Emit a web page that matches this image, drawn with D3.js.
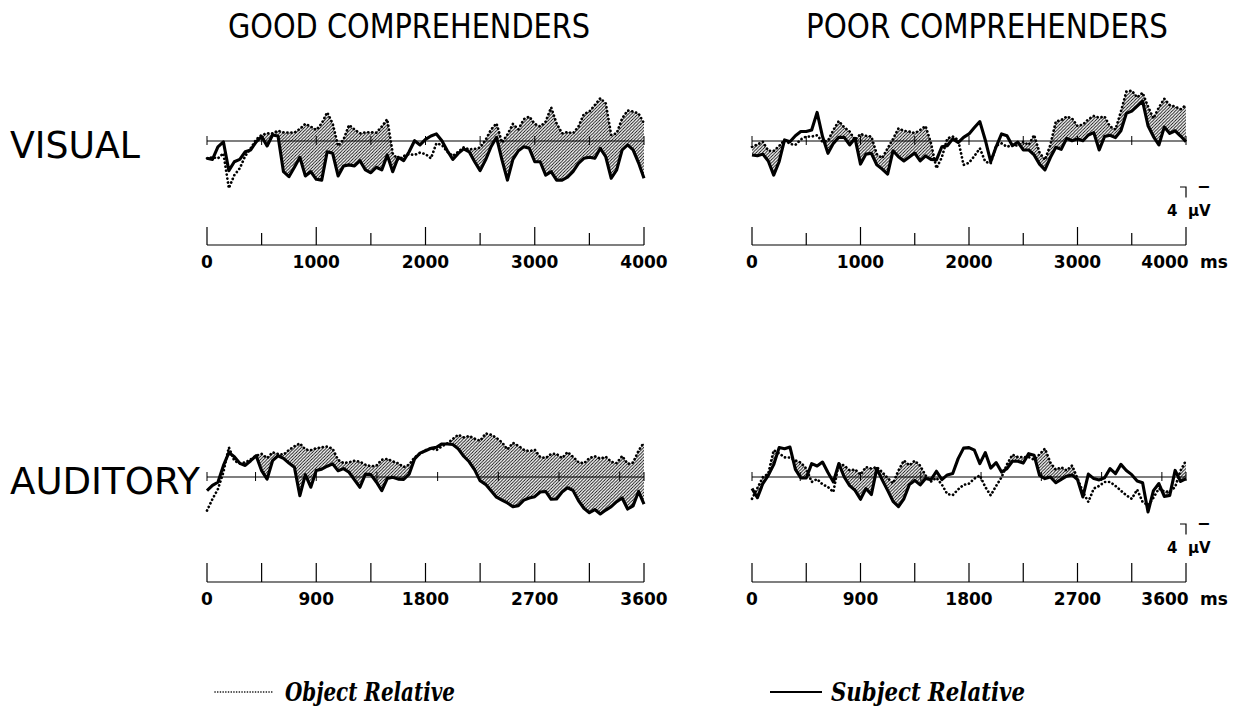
<!DOCTYPE html>
<html>
<head>
<meta charset="utf-8">
<script src="https://cdn.jsdelivr.net/npm/d3@7"></script>
<style>
  html, body { margin: 0; padding: 0; background: #fff; }
  svg { display: block; }
</style>
</head>
<body>
<svg id="chart" width="1237" height="719"></svg>
<script>
// ERP difference waveforms: Object vs Subject relative clauses, 4 panels.
// Values in microvolts; negative is plotted upward.

const visualStepMs = 50;      // sample spacing, visual panels (0–4000 ms)
const auditoryStepMs = 45;    // sample spacing, auditory panels (0–3600 ms)

const visualTickLabels = [0, 1000, 2000, 3000, 4000];
const auditoryTickLabels = [0, 900, 1800, 2700, 3600];
const visualMinorTicks = [500, 1500, 2500, 3500];
const auditoryMinorTicks = [450, 1350, 2250, 3150];
const visualOnsetMarks = [0, 500, 1000, 1500, 2000, 2500, 3000, 3500, 4000];
const auditoryOnsetMarks = [0, 400, 900, 1400, 1900, 2400, 2900, 3400, 3600];

const columnTitles = ["GOOD  COMPREHENDERS", "POOR  COMPREHENDERS"];
const rowTitles = ["VISUAL", "AUDITORY"];
const legendLabels = ["Object  Relative", "Subject  Relative"];

const goodVisualSubject = [6.6,7.0,2.2,0.3,11.3,7.9,7.0,4.1,3.4,0.3,-1.7,1.9,-2.3,-1.9,11.7,13.6,10.0,6.2,13.3,11.7,14.6,14.9,4.1,4.7,13.3,9.5,9.1,9.5,7.5,11.0,12.1,10.0,11.0,5.3,11.7,6.2,7.5,4.1,-0.1,1.5,-0.6,-1.9,-2.7,-0.1,3.7,7.0,4.7,3.0,4.1,7.9,11.3,7.2,2.2,-1.4,7.2,14.9,7.0,3.7,2.2,2.8,7.9,7.9,13.0,11.7,14.9,14.9,13.8,11.7,8.5,6.6,6.2,6.6,2.8,6.0,14.2,11.0,3.4,1.5,3.4,8.3,14.2];
const goodVisualObject = [6.6,6.2,6.6,4.7,18.0,13.0,10.4,5.7,2.8,-0.6,-2.3,-2.9,-2.9,-3.9,-3.3,-3.2,-3.2,-4.6,-6.5,-5.5,-4.2,-6.7,-10.9,-6.7,1.9,-0.6,-6.1,-4.4,-2.9,-3.3,-3.3,-3.2,-5.5,-8.3,4.7,7.2,5.7,5.0,5.3,4.4,5.0,6.6,0.9,1.5,4.1,5.7,4.1,2.4,3.2,3.0,2.5,-0.4,-4.4,-6.7,0.6,-2.5,-6.5,-4.4,-8.3,-9.3,-6.5,-5.5,-7.4,-12.8,-6.7,-2.9,-3.4,-2.9,-5.5,-10.3,-11.2,-13.7,-16.3,-14.3,-2.3,-2.9,-8.6,-11.6,-11.2,-10.5,-6.7];

const poorVisualSubject = [5.3,5.6,5.0,7.6,13.0,7.9,-0.4,0.3,-2.0,-3.6,-3.6,-4.2,-10.9,-1.7,4.7,0.9,-1.4,-1.4,1.5,-1.0,8.8,5.0,4.7,9.1,10.7,12.6,3.7,6.0,7.6,6.1,4.6,7.6,5.7,7.0,7.2,2.2,1.8,-0.8,0.6,-1.4,-2.7,-5.1,-7.4,-0.4,7.9,2.2,-2.7,-2.0,1.8,0.4,3.4,3.4,5.3,8.8,11.0,6.3,2.4,3.2,-1.0,-0.1,-0.8,-0.1,-2.3,-3.2,3.4,-1.7,-2.2,-1.3,-3.9,-10.5,-11.4,-13.3,-15.2,-5.8,-1.7,1.5,-5.3,-2.9,-3.9,-1.9,0.3];
const poorVisualObject = [2.2,1.3,0.3,3.7,3.8,1.9,-0.4,1.1,1.5,-0.6,-1.7,-1.7,-2.2,0.3,-0.1,-4.2,-7.6,-5.2,-3.6,-0.4,-2.7,-2.0,-1.7,5.0,6.5,2.8,-0.8,-4.8,-3.9,-3.6,-3.0,-4.2,-5.7,0.9,10.4,6.2,-1.0,-1.7,-0.4,9.1,8.3,5.7,2.8,7.9,8.5,1.8,0.9,2.2,1.5,1.8,0.3,1.5,-2.3,4.4,7.2,1.5,-7.4,-8.0,-9.3,-8.6,-5.7,-6.3,-8.3,-9.5,-8.9,-9.3,-5.5,-4.4,-11.2,-18.8,-19.2,-16.6,-18.4,-13.1,-8.6,-12.8,-16.1,-13.7,-13.1,-12.1,-13.7];

const goodAuditorySubject = [5.2,3.2,2.0,-4.3,-9.3,-7.7,-5.2,-4.4,-6.2,-8.1,-2.4,0.8,-6.2,-8.1,-7.1,-5.3,-3.7,7.1,-0.9,3.9,-2.5,-3.0,-4.1,-5.0,-2.4,-3.2,-1.8,1.1,3.9,-1.1,-0.9,1.9,5.2,0.6,0.1,0.8,0.9,-1.1,-6.9,-9.1,-10.0,-10.9,-11.3,-12.6,-12.6,-12.4,-10.7,-7.9,-5.8,-2.7,1.4,2.8,5.2,7.7,8.8,9.9,11.3,10.9,8.8,8.0,7.5,5.7,5.5,8.5,8.4,5.7,4.1,5.1,9.0,11.9,13.6,12.4,14.1,12.6,11.3,9.4,8.0,12.2,11.0,5.5,10.3];
const goodAuditoryObject = [12.8,8.4,4.6,-1.8,-11.3,-6.2,-5.2,-5.6,-6.7,-8.1,-8.8,-7.2,-9.4,-8.8,-8.5,-10.3,-11.7,-12.8,-10.5,-10.2,-11.0,-11.3,-11.6,-10.8,-6.5,-5.3,-5.6,-6.2,-5.8,-4.7,-4.1,-4.3,-6.6,-6.9,-6.0,-5.2,-3.8,-4.7,-7.5,-8.8,-10.2,-11.0,-10.2,-11.7,-12.8,-14.5,-16.1,-15.1,-15.6,-14.6,-13.8,-16.6,-16.1,-14.9,-13.2,-10.5,-13.0,-11.9,-10.4,-9.8,-10.4,-7.6,-7.2,-8.8,-8.8,-7.2,-9.5,-7.7,-5.6,-5.2,-7.2,-7.9,-7.0,-7.7,-5.8,-5.3,-8.0,-5.0,-5.5,-10.0,-13.2];

const poorAuditorySubject = [4.4,7.9,2.5,-0.6,-4.7,-11.2,-10.8,-11.4,-2.9,0.4,0.4,-5.1,-4.2,-5.7,-1.7,1.9,-5.1,0.0,3.3,5.1,8.5,4.4,6.7,-3.2,1.1,5.1,9.3,11.3,8.3,2.9,1.3,3.0,0.6,1.0,-2.2,1.0,-0.8,-1.3,-7.0,-11.0,-11.2,-10.2,-5.1,-9.3,-3.4,-5.5,-1.9,-3.2,-6.0,-6.0,-5.3,-8.9,-8.3,-0.6,0.6,0.0,2.2,0.9,-0.3,-0.8,1.0,7.6,-1.1,0.6,1.1,0.3,-3.2,-1.3,-4.8,-2.5,-0.9,1.5,2.2,13.3,5.2,2.5,7.4,7.0,-2.5,1.7,0.6];
const poorAuditoryObject = [8.3,4.2,0.1,-1.3,-10.2,-9.0,-7.5,-7.4,-6.3,-5.5,-3.2,1.9,0.8,2.8,3.8,5.7,-5.1,-4.4,-2.5,-2.9,-0.9,-3.8,-3.2,-3.8,-1.9,0.4,2.4,-2.5,-6.3,-4.4,-6.2,-4.3,-0.6,1.7,0.3,2.9,6.5,6.9,4.7,3.0,2.5,0.6,-0.6,3.8,7.0,3.4,0.1,-4.8,-8.5,-7.6,-7.6,-7.6,-6.6,-8.6,-10.8,-5.5,-2.8,-3.7,-2.5,-4.4,0.6,5.7,9.5,4.4,3.4,1.9,1.9,3.4,5.2,7.0,8.3,4.8,9.5,10.8,7.9,4.4,5.5,5.7,3.8,-2.5,-6.3];

const scaleBarMicrovolts = 4;

// ---------------------------------------------------------------------------
const svg = d3.select("#chart");
const FONT_SANS = "'DejaVu Sans', 'Liberation Sans', sans-serif";
const FONT_LEGEND = "'DejaVu Serif', 'Liberation Serif', serif";

const defs = svg.append("defs");
defs.append("pattern")
  .attr("id", "hatch")
  .attr("patternUnits", "userSpaceOnUse")
  .attr("width", 3.2).attr("height", 3.2)
  .append("path")
  .attr("d", "M-0.8,0.8 l1.6,-1.6 M0,3.2 l3.2,-3.2 M2.4,4 l1.6,-1.6")
  .attr("stroke", "#000").attr("stroke-width", 0.85);

const columns = [
  { x0: 207, x1: 644, title: columnTitles[0], titleX: 409, showUnits: false },
  { x0: 752, x1: 1186, title: columnTitles[1], titleX: 987, showUnits: true }
];
const rows = [
  { baseY: 141, axisY: 245, label: rowTitles[0], step: visualStepMs, end: 4000,
    labels: visualTickLabels, minor: visualMinorTicks, onsets: visualOnsetMarks, majorLen: 18, minorLen: 12 },
  { baseY: 477, axisY: 582, label: rowTitles[1], step: auditoryStepMs, end: 3600,
    labels: auditoryTickLabels, minor: auditoryMinorTicks, onsets: auditoryOnsetMarks, majorLen: 19, minorLen: 19 }
];

const panelData = [
  [ { obj: goodVisualObject, subj: goodVisualSubject }, { obj: poorVisualObject, subj: poorVisualSubject } ],
  [ { obj: goodAuditoryObject, subj: goodAuditorySubject }, { obj: poorAuditoryObject, subj: poorAuditorySubject } ]
];

const PX_PER_UV = 2.625;

// column titles
columns.forEach(c => {
  svg.append("text")
    .attr("x", c.titleX).attr("y", 38)
    .attr("text-anchor", "middle")
    .attr("font-family", FONT_SANS)
    .attr("font-size", 34)
    .attr("textLength", 362).attr("lengthAdjust", "spacingAndGlyphs")
    .text(c.title);
});

// row titles
rows.forEach((r, ri) => {
  svg.append("text")
    .attr("x", 10).attr("y", r.baseY + 17)
    .attr("font-family", FONT_SANS)
    .attr("font-size", 38)
    .attr("textLength", ri === 0 ? 130 : 190).attr("lengthAdjust", "spacingAndGlyphs")
    .text(r.label);
});

let clipId = 0;
rows.forEach((r, ri) => {
  columns.forEach((c, ci) => {
    const d = panelData[ri][ci];
    const x = d3.scaleLinear().domain([0, r.end]).range([c.x0, c.x1]);
    const y = d3.scaleLinear().domain([-20, 20]).range([r.baseY - 20 * PX_PER_UV, r.baseY + 20 * PX_PER_UV]);
    const t = i => i * r.step;
    const g = svg.append("g");

    // hatched region where Object is more negative (plotted higher) than Subject
    const cid = "clip" + (clipId++);
    defs.append("clipPath").attr("id", cid)
      .append("path")
      .attr("d", d3.area().x((v, i) => x(t(i))).y0(r.baseY - 80).y1(v => y(v))(d.subj));
    g.append("path")
      .attr("clip-path", `url(#${cid})`)
      .attr("fill", "url(#hatch)")
      .attr("d", d3.area().x((v, i) => x(t(i))).y0(r.baseY + 80).y1(v => y(v))(d.obj));

    // zero line with onset marks
    g.append("line")
      .attr("x1", x(0)).attr("x2", x(r.end))
      .attr("y1", y(0)).attr("y2", y(0))
      .attr("stroke", "#000").attr("stroke-width", 1.1);
    g.selectAll(".onset").data(r.onsets).enter().append("line")
      .attr("x1", v => x(v)).attr("x2", v => x(v))
      .attr("y1", y(0) - 5).attr("y2", y(0) + 4)
      .attr("stroke", "#000").attr("stroke-width", 1);

    const line = d3.line().x((v, i) => x(t(i))).y(v => y(v));

    g.append("path").attr("d", line(d.obj))
      .attr("fill", "none").attr("stroke", "#000")
      .attr("stroke-width", 2.7).attr("stroke-linecap", "round")
      .attr("stroke-dasharray", "0.1 3.9");
    g.append("path").attr("d", line(d.subj))
      .attr("fill", "none").attr("stroke", "#000")
      .attr("stroke-width", 3.1).attr("stroke-linejoin", "round");

    // time axis
    const ax = svg.append("g");
    ax.append("line")
      .attr("x1", x(0)).attr("x2", x(r.end))
      .attr("y1", r.axisY).attr("y2", r.axisY)
      .attr("stroke", "#000").attr("stroke-width", 1.2);
    ax.selectAll(".maj").data(r.labels).enter().append("line")
      .attr("x1", v => x(v)).attr("x2", v => x(v))
      .attr("y1", r.axisY - r.majorLen).attr("y2", r.axisY)
      .attr("stroke", "#000").attr("stroke-width", 1.2);
    ax.selectAll(".min").data(r.minor).enter().append("line")
      .attr("x1", v => x(v)).attr("x2", v => x(v))
      .attr("y1", r.axisY - r.minorLen).attr("y2", r.axisY)
      .attr("stroke", "#000").attr("stroke-width", 1.2);
    ax.selectAll(".lab").data(r.labels).enter().append("text")
      .attr("x", (v, i) => x(v) - (c.showUnits && i === r.labels.length - 1 ? 21 : 0))
      .attr("y", r.axisY + 23)
      .attr("text-anchor", "middle")
      .attr("font-family", FONT_SANS).attr("font-weight", "bold")
      .attr("font-size", 17)
      .text(v => v);

    if (c.showUnits) {
      ax.append("text")
        .attr("x", x(r.end) + 14).attr("y", r.axisY + 23)
        .attr("font-family", FONT_SANS).attr("font-weight", "bold")
        .attr("font-size", 17).text("ms");

      // calibration bar: negative up
      const barTop = r.axisY - 58;
      const barLen = scaleBarMicrovolts * PX_PER_UV;
      ax.append("path")
        .attr("d", `M${x(r.end) - 6},${barTop} H${x(r.end)} V${barTop + barLen}`)
        .attr("fill", "none").attr("stroke", "#000").attr("stroke-width", 1.2);
      ax.append("text")
        .attr("x", x(r.end) + 11).attr("y", barTop + 5)
        .attr("font-family", FONT_SANS).attr("font-weight", "bold")
        .attr("font-size", 16).text("\u2212");
      ax.append("text")
        .attr("x", x(r.end) - 19).attr("y", barTop + 29)
        .attr("font-family", FONT_SANS).attr("font-weight", "bold")
        .attr("font-size", 15).text(scaleBarMicrovolts + "  \u03bcV")
        .attr("xml:space", "preserve");
    }
  });
});

// legend
const legendY = 692;
svg.append("line")
  .attr("x1", 215).attr("x2", 272).attr("y1", legendY).attr("y2", legendY)
  .attr("stroke", "#000").attr("stroke-width", 1.6)
  .attr("stroke-dasharray", "0.1 2.6").attr("stroke-linecap", "round");
svg.append("text")
  .attr("x", 285).attr("y", legendY + 9)
  .attr("font-family", FONT_LEGEND).attr("font-weight", "bold").attr("font-style", "italic")
  .attr("font-size", 26)
  .attr("textLength", 170).attr("lengthAdjust", "spacingAndGlyphs")
  .text(legendLabels[0]);
svg.append("line")
  .attr("x1", 770).attr("x2", 822).attr("y1", legendY).attr("y2", legendY)
  .attr("stroke", "#000").attr("stroke-width", 2.2);
svg.append("text")
  .attr("x", 831).attr("y", legendY + 9)
  .attr("font-family", FONT_LEGEND).attr("font-weight", "bold").attr("font-style", "italic")
  .attr("font-size", 26)
  .attr("textLength", 194).attr("lengthAdjust", "spacingAndGlyphs")
  .text(legendLabels[1]);
</script>
</body>
</html>
